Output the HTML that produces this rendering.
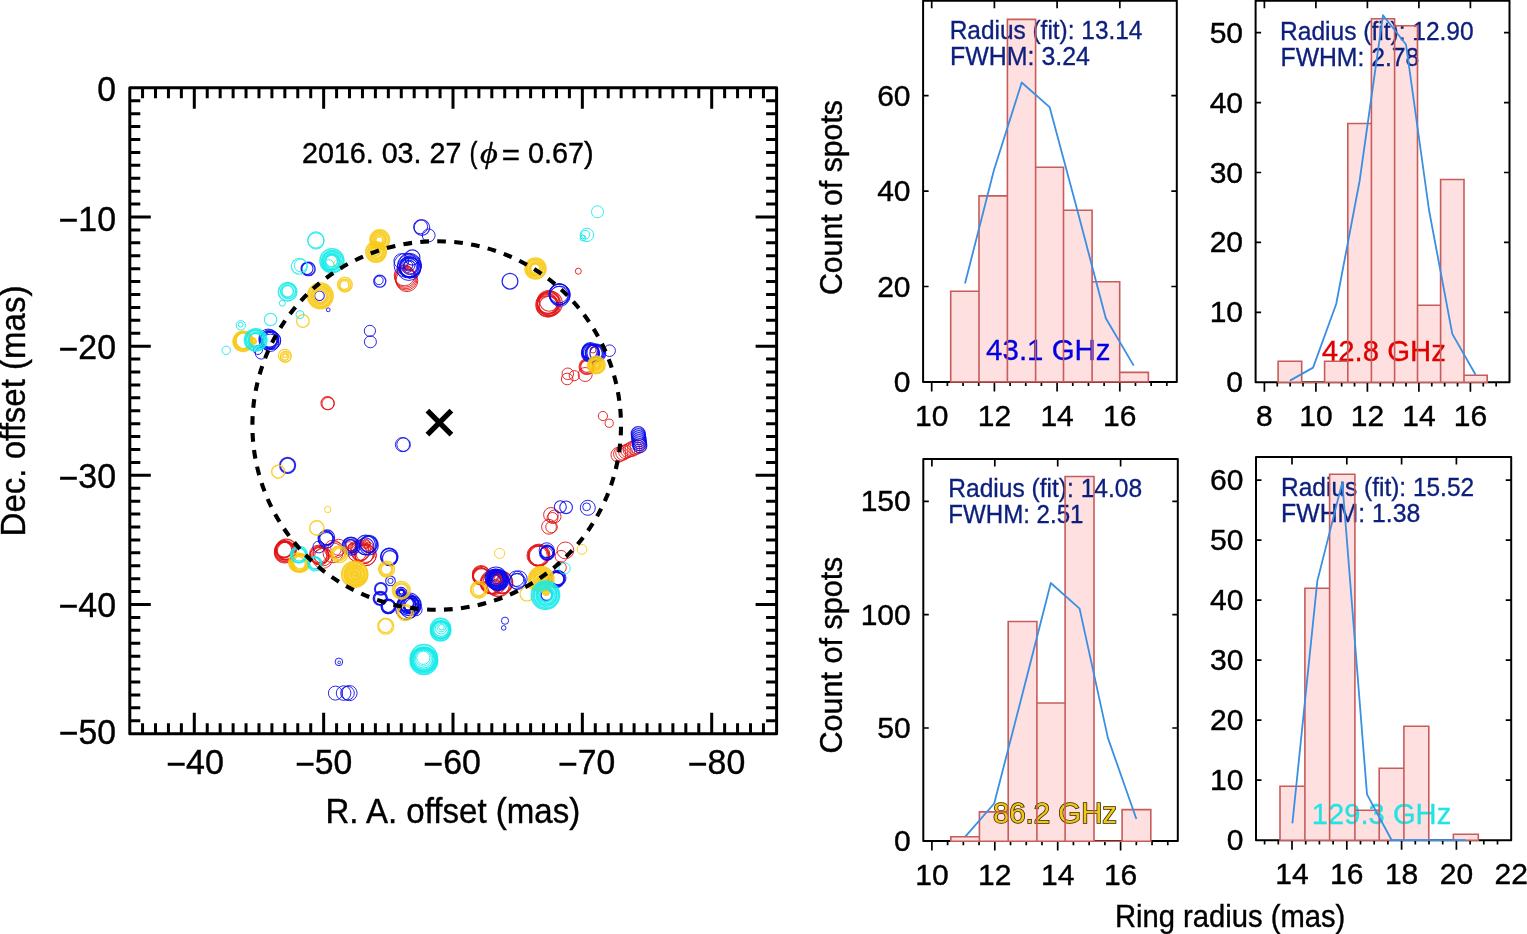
<!DOCTYPE html><html><head><meta charset="utf-8"><title>Ring radius figure</title><style>html,body{margin:0;padding:0;background:#fff;overflow:hidden}svg{display:block}</style></head><body>
<svg width="1527" height="934" viewBox="0 0 1527 934" font-family="'Liberation Sans', Arial, Helvetica, sans-serif">
<rect x="0" y="0" width="1527" height="934" fill="#fff"/>
<g fill="none" stroke-opacity="0.88">
<circle cx="404.5" cy="275.5" r="10.3" stroke="#e21212" stroke-width="1"/>
<circle cx="405.1" cy="276.8" r="10.45" stroke="#e21212" stroke-width="1"/>
<circle cx="405.7" cy="278.1" r="10.6" stroke="#e21212" stroke-width="1"/>
<circle cx="406.3" cy="279.4" r="10.75" stroke="#e21212" stroke-width="1"/>
<circle cx="406.9" cy="280.7" r="10.9" stroke="#e21212" stroke-width="1"/>
<circle cx="408" cy="269.5" r="3.2" stroke="#e21212" stroke-width="1"/>
<circle cx="406" cy="267" r="2.2" stroke="#e21212" stroke-width="1"/>
<circle cx="548.62" cy="301.91" r="11.45" stroke="#e21212" stroke-width="1.1"/>
<circle cx="547.36" cy="304.22" r="10.6" stroke="#e21212" stroke-width="1.1"/>
<circle cx="547.29" cy="304.04" r="9.61" stroke="#e21212" stroke-width="1.1"/>
<circle cx="549.17" cy="301.42" r="9.77" stroke="#e21212" stroke-width="1.1"/>
<circle cx="549.12" cy="305.96" r="9.87" stroke="#e21212" stroke-width="1.1"/>
<circle cx="548.12" cy="304.76" r="12.34" stroke="#e21212" stroke-width="1.1"/>
<circle cx="549.89" cy="303.38" r="12.43" stroke="#e21212" stroke-width="1.1"/>
<circle cx="547.23" cy="306.15" r="10.37" stroke="#e21212" stroke-width="1.1"/>
<circle cx="578.3" cy="271.2" r="3" stroke="#e21212" stroke-width="1"/>
<circle cx="586.82" cy="366.39" r="6" stroke="#e21212" stroke-width="1.1"/>
<circle cx="586.95" cy="366.95" r="6.9" stroke="#e21212" stroke-width="1.1"/>
<circle cx="586.84" cy="366.77" r="7.8" stroke="#e21212" stroke-width="1.1"/>
<circle cx="585.2" cy="374.5" r="7" stroke="#e21212" stroke-width="1"/>
<circle cx="567.8" cy="373.8" r="5.8" stroke="#e21212" stroke-width="1"/>
<circle cx="567.2" cy="379" r="5.8" stroke="#e21212" stroke-width="1"/>
<circle cx="574.3" cy="375.7" r="5.1" stroke="#e21212" stroke-width="1"/>
<circle cx="593" cy="350" r="3" stroke="#e21212" stroke-width="1"/>
<circle cx="602.9" cy="416" r="4.6" stroke="#e21212" stroke-width="1"/>
<circle cx="609.2" cy="423.2" r="4.1" stroke="#e21212" stroke-width="1"/>
<circle cx="618.4" cy="454.8" r="7.44" stroke="#e21212" stroke-width="1"/>
<circle cx="620.74" cy="453.8" r="7.17" stroke="#e21212" stroke-width="1"/>
<circle cx="623.08" cy="452.8" r="7.35" stroke="#e21212" stroke-width="1"/>
<circle cx="625.41" cy="451.8" r="6.86" stroke="#e21212" stroke-width="1"/>
<circle cx="627.75" cy="450.8" r="6.86" stroke="#e21212" stroke-width="1"/>
<circle cx="630.09" cy="449.8" r="7.01" stroke="#e21212" stroke-width="1"/>
<circle cx="632.42" cy="448.8" r="7.48" stroke="#e21212" stroke-width="1"/>
<circle cx="634.76" cy="447.8" r="7.23" stroke="#e21212" stroke-width="1"/>
<circle cx="637.1" cy="446.8" r="7.11" stroke="#e21212" stroke-width="1"/>
<circle cx="327.6" cy="403.2" r="6.6" stroke="#e21212" stroke-width="1.1"/>
<circle cx="328.1" cy="403.6" r="6.1" stroke="#e21212" stroke-width="1"/>
<circle cx="550.9" cy="514.8" r="7.3" stroke="#e21212" stroke-width="1"/>
<circle cx="554.5" cy="516.5" r="6.5" stroke="#e21212" stroke-width="1"/>
<circle cx="552.5" cy="518" r="5.5" stroke="#e21212" stroke-width="1"/>
<circle cx="549" cy="526.8" r="7.4" stroke="#e21212" stroke-width="1"/>
<circle cx="551.5" cy="527" r="5.8" stroke="#e21212" stroke-width="1"/>
<circle cx="538.71" cy="555.49" r="9.95" stroke="#e21212" stroke-width="1"/>
<circle cx="539.21" cy="556.08" r="9.87" stroke="#e21212" stroke-width="1"/>
<circle cx="538.68" cy="555.66" r="10.81" stroke="#e21212" stroke-width="1"/>
<circle cx="539.05" cy="555.09" r="10.97" stroke="#e21212" stroke-width="1"/>
<circle cx="537.58" cy="555.4" r="10.64" stroke="#e21212" stroke-width="1"/>
<circle cx="537.66" cy="555.57" r="9.56" stroke="#e21212" stroke-width="1"/>
<circle cx="565.4" cy="550.4" r="8.4" stroke="#e21212" stroke-width="1"/>
<circle cx="561.1" cy="556.4" r="6" stroke="#e21212" stroke-width="1"/>
<circle cx="560.3" cy="567.6" r="6" stroke="#e21212" stroke-width="1"/>
<circle cx="481" cy="576.29" r="8.36" stroke="#e21212" stroke-width="1.2"/>
<circle cx="481.63" cy="574.94" r="8.54" stroke="#e21212" stroke-width="1.2"/>
<circle cx="480.78" cy="575.74" r="8.18" stroke="#e21212" stroke-width="1.2"/>
<circle cx="481.52" cy="576.83" r="8.21" stroke="#e21212" stroke-width="1.2"/>
<circle cx="480.99" cy="574.18" r="8.55" stroke="#e21212" stroke-width="1.2"/>
<circle cx="498.91" cy="584.98" r="11.64" stroke="#e21212" stroke-width="1.1"/>
<circle cx="494.2" cy="583.16" r="11.34" stroke="#e21212" stroke-width="1.1"/>
<circle cx="490.79" cy="583.39" r="10.34" stroke="#e21212" stroke-width="1.1"/>
<circle cx="492.02" cy="582.18" r="11.54" stroke="#e21212" stroke-width="1.1"/>
<circle cx="492.18" cy="582.74" r="10.78" stroke="#e21212" stroke-width="1.1"/>
<circle cx="501.83" cy="582.24" r="10.9" stroke="#e21212" stroke-width="1.1"/>
<circle cx="497.64" cy="584.65" r="11.64" stroke="#e21212" stroke-width="1.1"/>
<circle cx="501.73" cy="582.84" r="10.83" stroke="#e21212" stroke-width="1.1"/>
<circle cx="284.88" cy="552.54" r="10.35" stroke="#e21212" stroke-width="1.3"/>
<circle cx="283.96" cy="549.7" r="7.81" stroke="#e21212" stroke-width="1.3"/>
<circle cx="284.33" cy="550.94" r="9.06" stroke="#e21212" stroke-width="1.3"/>
<circle cx="284.46" cy="549.02" r="8.47" stroke="#e21212" stroke-width="1.3"/>
<circle cx="284.92" cy="551.27" r="10.34" stroke="#e21212" stroke-width="1.3"/>
<circle cx="286.34" cy="551.06" r="9.16" stroke="#e21212" stroke-width="1.3"/>
<circle cx="286.28" cy="549.22" r="10.15" stroke="#e21212" stroke-width="1.3"/>
<circle cx="322.68" cy="558.37" r="10.1" stroke="#e21212" stroke-width="1"/>
<circle cx="320.35" cy="555.99" r="8.71" stroke="#e21212" stroke-width="1"/>
<circle cx="321.81" cy="554.31" r="8.63" stroke="#e21212" stroke-width="1"/>
<circle cx="319.25" cy="554.81" r="9.18" stroke="#e21212" stroke-width="1"/>
<circle cx="318.32" cy="554" r="8.8" stroke="#e21212" stroke-width="1"/>
<circle cx="318.61" cy="555.82" r="8.55" stroke="#e21212" stroke-width="1"/>
<circle cx="323.25" cy="557.07" r="8.8" stroke="#e21212" stroke-width="1"/>
<circle cx="319.51" cy="555.74" r="9.23" stroke="#e21212" stroke-width="1"/>
<circle cx="332.98" cy="552.79" r="9.99" stroke="#e21212" stroke-width="1"/>
<circle cx="335.73" cy="549.87" r="8.17" stroke="#e21212" stroke-width="1"/>
<circle cx="332.82" cy="548.74" r="8.53" stroke="#e21212" stroke-width="1"/>
<circle cx="338.63" cy="547.29" r="8.05" stroke="#e21212" stroke-width="1"/>
<circle cx="365.41" cy="553.17" r="9.29" stroke="#e21212" stroke-width="1"/>
<circle cx="360.52" cy="550.16" r="10.06" stroke="#e21212" stroke-width="1"/>
<circle cx="365.74" cy="555.18" r="10.39" stroke="#e21212" stroke-width="1"/>
<circle cx="357.13" cy="552.2" r="9.33" stroke="#e21212" stroke-width="1"/>
<circle cx="363.26" cy="553.2" r="10.56" stroke="#e21212" stroke-width="1"/>
<circle cx="357.96" cy="551.34" r="10.62" stroke="#e21212" stroke-width="1"/>
<circle cx="365.82" cy="555.12" r="10.61" stroke="#e21212" stroke-width="1"/>
<circle cx="363.82" cy="554.44" r="9.45" stroke="#e21212" stroke-width="1"/>
<circle cx="360.21" cy="552.13" r="9.06" stroke="#e21212" stroke-width="1"/>
<circle cx="349.11" cy="545.12" r="3.52" stroke="#e21212" stroke-width="1"/>
<circle cx="351.77" cy="547.83" r="3.89" stroke="#e21212" stroke-width="1"/>
<circle cx="352.75" cy="547.95" r="4.91" stroke="#e21212" stroke-width="1"/>
<circle cx="366.46" cy="543.88" r="3.57" stroke="#e21212" stroke-width="1"/>
<circle cx="365.79" cy="543.82" r="4.56" stroke="#e21212" stroke-width="1"/>
<circle cx="368.6" cy="546.36" r="4.2" stroke="#e21212" stroke-width="1"/>
<circle cx="412.3" cy="257.5" r="7.6" stroke="#0a0aec" stroke-width="1.2"/>
<circle cx="401.3" cy="261.1" r="7.4" stroke="#0a0aec" stroke-width="1"/>
<circle cx="408.76" cy="268.18" r="9.75" stroke="#0a0aec" stroke-width="1"/>
<circle cx="408.8" cy="268.68" r="11.77" stroke="#0a0aec" stroke-width="1"/>
<circle cx="409.25" cy="266.7" r="10.02" stroke="#0a0aec" stroke-width="1"/>
<circle cx="409.45" cy="266.03" r="11.82" stroke="#0a0aec" stroke-width="1"/>
<circle cx="410.36" cy="266.32" r="10.66" stroke="#0a0aec" stroke-width="1"/>
<circle cx="410.23" cy="267.83" r="9.99" stroke="#0a0aec" stroke-width="1"/>
<circle cx="406.14" cy="265.2" r="12.12" stroke="#0a0aec" stroke-width="1"/>
<circle cx="409.53" cy="265.17" r="11.9" stroke="#0a0aec" stroke-width="1"/>
<circle cx="410.4" cy="267.52" r="10.52" stroke="#0a0aec" stroke-width="1"/>
<circle cx="408.19" cy="265.32" r="4.56" stroke="#0a0aec" stroke-width="1"/>
<circle cx="409.88" cy="267.4" r="6.61" stroke="#0a0aec" stroke-width="1"/>
<circle cx="409.73" cy="266.54" r="7.99" stroke="#0a0aec" stroke-width="1"/>
<circle cx="409.3" cy="265.64" r="5.51" stroke="#0a0aec" stroke-width="1"/>
<circle cx="421.9" cy="227.6" r="7.8" stroke="#0a0aec" stroke-width="1.1"/>
<circle cx="420.6" cy="226.8" r="7" stroke="#0a0aec" stroke-width="1"/>
<circle cx="428.7" cy="235.4" r="6.4" stroke="#0a0aec" stroke-width="1"/>
<circle cx="379.8" cy="281.2" r="6" stroke="#0a0aec" stroke-width="1.3"/>
<circle cx="378.9" cy="280.4" r="4.3" stroke="#0a0aec" stroke-width="1"/>
<circle cx="369.9" cy="330.9" r="5.6" stroke="#0a0aec" stroke-width="1"/>
<circle cx="370.4" cy="341.8" r="6" stroke="#0a0aec" stroke-width="1"/>
<circle cx="308.4" cy="268.9" r="6.7" stroke="#0a0aec" stroke-width="1.5"/>
<circle cx="307" cy="268.5" r="6" stroke="#0a0aec" stroke-width="1.1"/>
<circle cx="319.5" cy="295.8" r="4.8" stroke="#0a0aec" stroke-width="1.1"/>
<circle cx="328.2" cy="309.8" r="1.9" stroke="#0a0aec" stroke-width="1"/>
<circle cx="268.76" cy="339.5" r="8.94" stroke="#0a0aec" stroke-width="1"/>
<circle cx="268.6" cy="340.4" r="8.21" stroke="#0a0aec" stroke-width="1"/>
<circle cx="271.85" cy="340.07" r="8.73" stroke="#0a0aec" stroke-width="1"/>
<circle cx="270.22" cy="342.82" r="8.67" stroke="#0a0aec" stroke-width="1"/>
<circle cx="271.89" cy="340.81" r="8.85" stroke="#0a0aec" stroke-width="1"/>
<circle cx="269.92" cy="338.39" r="8.7" stroke="#0a0aec" stroke-width="1"/>
<circle cx="268.22" cy="338.32" r="9.28" stroke="#0a0aec" stroke-width="1"/>
<circle cx="268.16" cy="340.67" r="9.16" stroke="#0a0aec" stroke-width="1"/>
<circle cx="270.08" cy="339.93" r="8.83" stroke="#0a0aec" stroke-width="1"/>
<circle cx="261.2" cy="353.2" r="5.9" stroke="#0a0aec" stroke-width="1"/>
<circle cx="258" cy="350" r="4.5" stroke="#0a0aec" stroke-width="1"/>
<circle cx="510" cy="281.2" r="7.9" stroke="#0a0aec" stroke-width="1.3"/>
<circle cx="558.94" cy="295.65" r="9.27" stroke="#0a0aec" stroke-width="1"/>
<circle cx="558.97" cy="293.29" r="9.69" stroke="#0a0aec" stroke-width="1"/>
<circle cx="559.9" cy="294.43" r="10.4" stroke="#0a0aec" stroke-width="1"/>
<circle cx="559.84" cy="296.21" r="10.11" stroke="#0a0aec" stroke-width="1"/>
<circle cx="559.2" cy="294.42" r="10.28" stroke="#0a0aec" stroke-width="1"/>
<circle cx="559.55" cy="294.19" r="10.33" stroke="#0a0aec" stroke-width="1"/>
<circle cx="593.78" cy="353.32" r="8.55" stroke="#0a0aec" stroke-width="1.3"/>
<circle cx="597.77" cy="353.33" r="7.89" stroke="#0a0aec" stroke-width="1.3"/>
<circle cx="594.6" cy="353.33" r="8.76" stroke="#0a0aec" stroke-width="1.3"/>
<circle cx="590.37" cy="350.86" r="8.16" stroke="#0a0aec" stroke-width="1.3"/>
<circle cx="589.73" cy="351.22" r="7.61" stroke="#0a0aec" stroke-width="1.3"/>
<circle cx="595.69" cy="352.85" r="8.85" stroke="#0a0aec" stroke-width="1.3"/>
<circle cx="590.54" cy="352.65" r="8.49" stroke="#0a0aec" stroke-width="1.3"/>
<circle cx="590.43" cy="353.15" r="8.95" stroke="#0a0aec" stroke-width="1.3"/>
<circle cx="591.2" cy="353.36" r="8.1" stroke="#0a0aec" stroke-width="1.3"/>
<circle cx="609.6" cy="350.7" r="5.8" stroke="#0a0aec" stroke-width="1"/>
<circle cx="638.2" cy="433.7" r="7" stroke="#0a0aec" stroke-width="1.2"/>
<circle cx="638.47" cy="435.7" r="7" stroke="#0a0aec" stroke-width="1.2"/>
<circle cx="638.73" cy="437.7" r="7" stroke="#0a0aec" stroke-width="1.2"/>
<circle cx="639" cy="439.7" r="7" stroke="#0a0aec" stroke-width="1.2"/>
<circle cx="639.27" cy="441.7" r="7" stroke="#0a0aec" stroke-width="1.2"/>
<circle cx="639.53" cy="443.7" r="7" stroke="#0a0aec" stroke-width="1.2"/>
<circle cx="639.8" cy="445.7" r="7" stroke="#0a0aec" stroke-width="1.2"/>
<circle cx="402.5" cy="444.6" r="7.1" stroke="#0a0aec" stroke-width="1"/>
<circle cx="403.6" cy="444.6" r="6.8" stroke="#0a0aec" stroke-width="1"/>
<circle cx="287.6" cy="465.3" r="7.6" stroke="#0a0aec" stroke-width="2"/>
<circle cx="326.46" cy="540.27" r="7.8" stroke="#0a0aec" stroke-width="1.1"/>
<circle cx="325.48" cy="538.59" r="7.42" stroke="#0a0aec" stroke-width="1.1"/>
<circle cx="326.02" cy="537.89" r="7.18" stroke="#0a0aec" stroke-width="1.1"/>
<circle cx="327.17" cy="537.36" r="7.46" stroke="#0a0aec" stroke-width="1.1"/>
<circle cx="318.8" cy="547" r="5.9" stroke="#0a0aec" stroke-width="1"/>
<circle cx="350.55" cy="545.51" r="5.6" stroke="#0a0aec" stroke-width="1.2"/>
<circle cx="350.47" cy="546" r="6.73" stroke="#0a0aec" stroke-width="1.2"/>
<circle cx="350.61" cy="545.55" r="7.87" stroke="#0a0aec" stroke-width="1.2"/>
<circle cx="350.99" cy="546.13" r="9" stroke="#0a0aec" stroke-width="1.2"/>
<circle cx="369.09" cy="543.72" r="8.53" stroke="#0a0aec" stroke-width="1.1"/>
<circle cx="365.36" cy="546.42" r="8.54" stroke="#0a0aec" stroke-width="1.1"/>
<circle cx="365.72" cy="544.99" r="9.82" stroke="#0a0aec" stroke-width="1.1"/>
<circle cx="368.48" cy="544.33" r="8.3" stroke="#0a0aec" stroke-width="1.1"/>
<circle cx="368.88" cy="545.58" r="9.4" stroke="#0a0aec" stroke-width="1.1"/>
<circle cx="388.78" cy="556.72" r="8.23" stroke="#0a0aec" stroke-width="1.3"/>
<circle cx="389.45" cy="556.74" r="8.53" stroke="#0a0aec" stroke-width="1.3"/>
<circle cx="389.87" cy="558.2" r="7.5" stroke="#0a0aec" stroke-width="1.3"/>
<circle cx="390.5" cy="580.9" r="4.8" stroke="#0a0aec" stroke-width="1.1"/>
<circle cx="390.5" cy="580.9" r="2.6" stroke="#0a0aec" stroke-width="1"/>
<circle cx="380.8" cy="588.9" r="5.9" stroke="#0a0aec" stroke-width="2"/>
<circle cx="380.51" cy="598.06" r="6.86" stroke="#0a0aec" stroke-width="1.1"/>
<circle cx="379.71" cy="598.71" r="6.55" stroke="#0a0aec" stroke-width="1.1"/>
<circle cx="380.65" cy="598.54" r="6.13" stroke="#0a0aec" stroke-width="1.1"/>
<circle cx="388.98" cy="606.32" r="6.61" stroke="#0a0aec" stroke-width="1.1"/>
<circle cx="387.88" cy="605.75" r="6.7" stroke="#0a0aec" stroke-width="1.1"/>
<circle cx="388.34" cy="606.52" r="7.26" stroke="#0a0aec" stroke-width="1.1"/>
<circle cx="388.27" cy="607.1" r="6.68" stroke="#0a0aec" stroke-width="1.1"/>
<circle cx="401.33" cy="591.34" r="2.5" stroke="#0a0aec" stroke-width="1"/>
<circle cx="400.54" cy="593.06" r="3.7" stroke="#0a0aec" stroke-width="1"/>
<circle cx="400.95" cy="592.44" r="5.24" stroke="#0a0aec" stroke-width="1"/>
<circle cx="400.76" cy="593.27" r="3.23" stroke="#0a0aec" stroke-width="1"/>
<circle cx="401.69" cy="593.3" r="3.07" stroke="#0a0aec" stroke-width="1"/>
<circle cx="401.72" cy="592.95" r="5.43" stroke="#0a0aec" stroke-width="1"/>
<circle cx="401.32" cy="593.3" r="4.33" stroke="#0a0aec" stroke-width="1"/>
<circle cx="402.03" cy="592.27" r="2.89" stroke="#0a0aec" stroke-width="1"/>
<circle cx="406.38" cy="603.41" r="7.32" stroke="#0a0aec" stroke-width="1.1"/>
<circle cx="411.19" cy="604.29" r="7.73" stroke="#0a0aec" stroke-width="1.1"/>
<circle cx="406.59" cy="608.39" r="10.92" stroke="#0a0aec" stroke-width="1.1"/>
<circle cx="410.69" cy="604.47" r="8.09" stroke="#0a0aec" stroke-width="1.1"/>
<circle cx="408.05" cy="605.72" r="7.71" stroke="#0a0aec" stroke-width="1.1"/>
<circle cx="409.12" cy="604.34" r="11.33" stroke="#0a0aec" stroke-width="1.1"/>
<circle cx="412.81" cy="606.33" r="8.1" stroke="#0a0aec" stroke-width="1.1"/>
<circle cx="412.76" cy="604.67" r="8.6" stroke="#0a0aec" stroke-width="1.1"/>
<circle cx="406.01" cy="605.17" r="9.14" stroke="#0a0aec" stroke-width="1.1"/>
<circle cx="409.52" cy="603.91" r="9.27" stroke="#0a0aec" stroke-width="1.1"/>
<circle cx="406.03" cy="604.35" r="7.4" stroke="#0a0aec" stroke-width="1.1"/>
<circle cx="408.8" cy="602.79" r="7.1" stroke="#0a0aec" stroke-width="1.1"/>
<circle cx="408.13" cy="604.13" r="9.64" stroke="#0a0aec" stroke-width="1.1"/>
<circle cx="409.7" cy="607.75" r="9.96" stroke="#0a0aec" stroke-width="1.1"/>
<circle cx="416.2" cy="609.8" r="5.9" stroke="#0a0aec" stroke-width="1"/>
<circle cx="338.9" cy="661.9" r="3.8" stroke="#0a0aec" stroke-width="1"/>
<circle cx="339.2" cy="662.4" r="1.4" stroke="#0a0aec" stroke-width="0.9"/>
<circle cx="335.4" cy="693.1" r="7" stroke="#0a0aec" stroke-width="1"/>
<circle cx="343.6" cy="693.1" r="7.3" stroke="#0a0aec" stroke-width="1"/>
<circle cx="349.5" cy="693.1" r="7.6" stroke="#0a0aec" stroke-width="1"/>
<circle cx="347.5" cy="693.1" r="6.8" stroke="#0a0aec" stroke-width="1"/>
<circle cx="560.3" cy="506.8" r="6" stroke="#0a0aec" stroke-width="1.1"/>
<circle cx="566.1" cy="507.3" r="6.3" stroke="#0a0aec" stroke-width="1.1"/>
<circle cx="587.8" cy="507.8" r="7.5" stroke="#0a0aec" stroke-width="1"/>
<circle cx="586.6" cy="506.8" r="3.9" stroke="#0a0aec" stroke-width="1"/>
<circle cx="547.12" cy="552.95" r="6.88" stroke="#0a0aec" stroke-width="1"/>
<circle cx="546.18" cy="553.69" r="6.52" stroke="#0a0aec" stroke-width="1"/>
<circle cx="547.14" cy="551.3" r="6.37" stroke="#0a0aec" stroke-width="1"/>
<circle cx="547.4" cy="553.04" r="7.24" stroke="#0a0aec" stroke-width="1"/>
<circle cx="547.16" cy="552.49" r="6.51" stroke="#0a0aec" stroke-width="1"/>
<circle cx="546.66" cy="550.33" r="7.55" stroke="#0a0aec" stroke-width="1"/>
<circle cx="547.33" cy="552.58" r="7.18" stroke="#0a0aec" stroke-width="1"/>
<circle cx="498.56" cy="580.03" r="10.2" stroke="#0a0aec" stroke-width="1.1"/>
<circle cx="495.25" cy="577.42" r="8.02" stroke="#0a0aec" stroke-width="1.1"/>
<circle cx="495.9" cy="577.72" r="10.76" stroke="#0a0aec" stroke-width="1.1"/>
<circle cx="496.89" cy="579.81" r="9.94" stroke="#0a0aec" stroke-width="1.1"/>
<circle cx="497.5" cy="579.26" r="7.51" stroke="#0a0aec" stroke-width="1.1"/>
<circle cx="498.09" cy="580.29" r="9.46" stroke="#0a0aec" stroke-width="1.1"/>
<circle cx="496.78" cy="579.94" r="7.76" stroke="#0a0aec" stroke-width="1.1"/>
<circle cx="497.78" cy="578.31" r="7.79" stroke="#0a0aec" stroke-width="1.1"/>
<circle cx="495.43" cy="580.22" r="8.3" stroke="#0a0aec" stroke-width="1.1"/>
<circle cx="497.8" cy="581.2" r="9.43" stroke="#0a0aec" stroke-width="1.1"/>
<circle cx="496.01" cy="579.22" r="10.17" stroke="#0a0aec" stroke-width="1.1"/>
<circle cx="497.93" cy="579.77" r="10.01" stroke="#0a0aec" stroke-width="1.1"/>
<circle cx="494.49" cy="577.89" r="8.49" stroke="#0a0aec" stroke-width="1.1"/>
<circle cx="497.77" cy="578.52" r="4.77" stroke="#0a0aec" stroke-width="1"/>
<circle cx="494.85" cy="577.54" r="3.58" stroke="#0a0aec" stroke-width="1"/>
<circle cx="497.49" cy="580.07" r="5.2" stroke="#0a0aec" stroke-width="1"/>
<circle cx="495.96" cy="579.37" r="4.36" stroke="#0a0aec" stroke-width="1"/>
<circle cx="496.67" cy="577.77" r="6.07" stroke="#0a0aec" stroke-width="1"/>
<circle cx="495.6" cy="581.21" r="6.25" stroke="#0a0aec" stroke-width="1"/>
<circle cx="494.87" cy="579.14" r="5.78" stroke="#0a0aec" stroke-width="1"/>
<circle cx="499.37" cy="579.8" r="2.81" stroke="#e21212" stroke-width="1"/>
<circle cx="496.34" cy="581.78" r="2.63" stroke="#e21212" stroke-width="1"/>
<circle cx="497.83" cy="578.57" r="3.57" stroke="#e21212" stroke-width="1"/>
<circle cx="518.96" cy="579.1" r="8.23" stroke="#0a0aec" stroke-width="1"/>
<circle cx="517.63" cy="581.36" r="8.06" stroke="#0a0aec" stroke-width="1"/>
<circle cx="516.79" cy="581.39" r="7.73" stroke="#0a0aec" stroke-width="1"/>
<circle cx="516.17" cy="578.71" r="7.74" stroke="#0a0aec" stroke-width="1"/>
<circle cx="557.55" cy="578.11" r="6.71" stroke="#0a0aec" stroke-width="1.1"/>
<circle cx="557.23" cy="578.15" r="7.76" stroke="#0a0aec" stroke-width="1.1"/>
<circle cx="556.21" cy="579.45" r="7.76" stroke="#0a0aec" stroke-width="1.1"/>
<circle cx="556.56" cy="579.98" r="7.57" stroke="#0a0aec" stroke-width="1.1"/>
<circle cx="558.9" cy="578.07" r="7.06" stroke="#0a0aec" stroke-width="1.1"/>
<circle cx="546.6" cy="595" r="5.6" stroke="#0a0aec" stroke-width="1.5"/>
<circle cx="505" cy="620.7" r="3.6" stroke="#0a0aec" stroke-width="1"/>
<circle cx="503.7" cy="627.9" r="2.3" stroke="#0a0aec" stroke-width="1"/>
<circle cx="379.31" cy="240.3" r="3.5" stroke="#f8ca16" stroke-width="1.6"/>
<circle cx="379.47" cy="239.79" r="4.76" stroke="#f8ca16" stroke-width="1.6"/>
<circle cx="379.34" cy="239.72" r="6.02" stroke="#f8ca16" stroke-width="1.6"/>
<circle cx="379.04" cy="239.58" r="7.28" stroke="#f8ca16" stroke-width="1.6"/>
<circle cx="379.67" cy="239.73" r="8.54" stroke="#f8ca16" stroke-width="1.6"/>
<circle cx="379.75" cy="239.7" r="9.8" stroke="#f8ca16" stroke-width="1.6"/>
<circle cx="375.81" cy="251.71" r="3.5" stroke="#f8ca16" stroke-width="1.6"/>
<circle cx="375.75" cy="251.6" r="4.84" stroke="#f8ca16" stroke-width="1.6"/>
<circle cx="376.36" cy="252.01" r="6.18" stroke="#f8ca16" stroke-width="1.6"/>
<circle cx="376.25" cy="251.8" r="7.52" stroke="#f8ca16" stroke-width="1.6"/>
<circle cx="376.33" cy="252.05" r="8.86" stroke="#f8ca16" stroke-width="1.6"/>
<circle cx="376.04" cy="251.88" r="10.2" stroke="#f8ca16" stroke-width="1.6"/>
<circle cx="344.44" cy="284.99" r="4.5" stroke="#f8ca16" stroke-width="1.4"/>
<circle cx="344.76" cy="285" r="5.9" stroke="#f8ca16" stroke-width="1.4"/>
<circle cx="344.92" cy="284.63" r="7.3" stroke="#f8ca16" stroke-width="1.4"/>
<circle cx="320.14" cy="296.14" r="6.3" stroke="#f8ca16" stroke-width="1.6"/>
<circle cx="320.2" cy="295.78" r="7.6" stroke="#f8ca16" stroke-width="1.6"/>
<circle cx="320.37" cy="295.64" r="8.9" stroke="#f8ca16" stroke-width="1.6"/>
<circle cx="320.69" cy="296.18" r="10.2" stroke="#f8ca16" stroke-width="1.6"/>
<circle cx="320.31" cy="295.92" r="11.5" stroke="#f8ca16" stroke-width="1.6"/>
<circle cx="320.34" cy="295.85" r="12.8" stroke="#f8ca16" stroke-width="1.6"/>
<circle cx="337.8" cy="263.6" r="3.9" stroke="#f8ca16" stroke-width="0.8"/>
<circle cx="302.9" cy="321" r="6.3" stroke="#f8ca16" stroke-width="1.3"/>
<circle cx="243.97" cy="340.67" r="8.32" stroke="#f8ca16" stroke-width="1.6"/>
<circle cx="243.04" cy="341.41" r="8.99" stroke="#f8ca16" stroke-width="1.6"/>
<circle cx="243.1" cy="341.41" r="9.99" stroke="#f8ca16" stroke-width="1.6"/>
<circle cx="244.25" cy="340.64" r="8.38" stroke="#f8ca16" stroke-width="1.6"/>
<circle cx="242.45" cy="340.84" r="8.18" stroke="#f8ca16" stroke-width="1.6"/>
<circle cx="252.48" cy="340.52" r="2.85" stroke="#f8ca16" stroke-width="1.2"/>
<circle cx="253.77" cy="341.5" r="2.62" stroke="#f8ca16" stroke-width="1.2"/>
<circle cx="252.83" cy="341.05" r="2.57" stroke="#f8ca16" stroke-width="1.2"/>
<circle cx="285.04" cy="355.5" r="2" stroke="#f8ca16" stroke-width="1.1"/>
<circle cx="284.94" cy="356.95" r="3.12" stroke="#f8ca16" stroke-width="1.1"/>
<circle cx="284.7" cy="356.21" r="4.25" stroke="#f8ca16" stroke-width="1.1"/>
<circle cx="285.51" cy="356.78" r="5.38" stroke="#f8ca16" stroke-width="1.1"/>
<circle cx="284.85" cy="355.83" r="6.5" stroke="#f8ca16" stroke-width="1.1"/>
<circle cx="535.3" cy="268.42" r="4.5" stroke="#f8ca16" stroke-width="1.6"/>
<circle cx="535.46" cy="268.86" r="5.7" stroke="#f8ca16" stroke-width="1.6"/>
<circle cx="535.78" cy="268.8" r="6.9" stroke="#f8ca16" stroke-width="1.6"/>
<circle cx="535.12" cy="268.13" r="8.1" stroke="#f8ca16" stroke-width="1.6"/>
<circle cx="535.67" cy="268.82" r="9.3" stroke="#f8ca16" stroke-width="1.6"/>
<circle cx="535.48" cy="268.57" r="10.5" stroke="#f8ca16" stroke-width="1.6"/>
<circle cx="595.6" cy="364.69" r="0.8" stroke="#f8ca16" stroke-width="2"/>
<circle cx="596.53" cy="365.13" r="2.1" stroke="#f8ca16" stroke-width="2"/>
<circle cx="596.46" cy="365.27" r="3.4" stroke="#f8ca16" stroke-width="2"/>
<circle cx="595.85" cy="364.41" r="4.7" stroke="#f8ca16" stroke-width="2"/>
<circle cx="595.75" cy="364.82" r="6" stroke="#f8ca16" stroke-width="2"/>
<circle cx="596.28" cy="365.24" r="7.3" stroke="#f8ca16" stroke-width="2"/>
<circle cx="596.32" cy="364.95" r="8.6" stroke="#f8ca16" stroke-width="2"/>
<circle cx="278.2" cy="471.7" r="6.5" stroke="#f8ca16" stroke-width="1.4"/>
<circle cx="327.7" cy="509.5" r="3.2" stroke="#f8ca16" stroke-width="1"/>
<circle cx="316.8" cy="528" r="7.2" stroke="#f8ca16" stroke-width="1.4"/>
<circle cx="300.56" cy="562.87" r="8.93" stroke="#f8ca16" stroke-width="1.8"/>
<circle cx="297.66" cy="563.85" r="7.81" stroke="#f8ca16" stroke-width="1.8"/>
<circle cx="301.18" cy="563.44" r="8.06" stroke="#f8ca16" stroke-width="1.8"/>
<circle cx="298.01" cy="562.26" r="9.23" stroke="#f8ca16" stroke-width="1.8"/>
<circle cx="300.29" cy="561.84" r="7.25" stroke="#f8ca16" stroke-width="1.8"/>
<circle cx="299.6" cy="563.25" r="8.36" stroke="#f8ca16" stroke-width="1.8"/>
<circle cx="339.08" cy="553.98" r="5.7" stroke="#f8ca16" stroke-width="1.4"/>
<circle cx="338.91" cy="553.74" r="7.05" stroke="#f8ca16" stroke-width="1.4"/>
<circle cx="339.27" cy="554.27" r="8.4" stroke="#f8ca16" stroke-width="1.4"/>
<circle cx="355.34" cy="574.78" r="1" stroke="#f8ca16" stroke-width="2.1"/>
<circle cx="355.18" cy="574.13" r="2.48" stroke="#f8ca16" stroke-width="2.1"/>
<circle cx="354.95" cy="574.86" r="3.95" stroke="#f8ca16" stroke-width="2.1"/>
<circle cx="355.4" cy="574.21" r="5.43" stroke="#f8ca16" stroke-width="2.1"/>
<circle cx="354.72" cy="574.4" r="6.9" stroke="#f8ca16" stroke-width="2.1"/>
<circle cx="355.37" cy="574.32" r="8.38" stroke="#f8ca16" stroke-width="2.1"/>
<circle cx="354.96" cy="574.57" r="9.85" stroke="#f8ca16" stroke-width="2.1"/>
<circle cx="355.63" cy="574.13" r="11.33" stroke="#f8ca16" stroke-width="2.1"/>
<circle cx="354.73" cy="574.24" r="12.8" stroke="#f8ca16" stroke-width="2.1"/>
<circle cx="386.34" cy="569.25" r="5.3" stroke="#f8ca16" stroke-width="1.4"/>
<circle cx="386.16" cy="569.34" r="6.6" stroke="#f8ca16" stroke-width="1.4"/>
<circle cx="386.59" cy="569.1" r="7.9" stroke="#f8ca16" stroke-width="1.4"/>
<circle cx="401.26" cy="590.88" r="6.7" stroke="#f8ca16" stroke-width="1.3"/>
<circle cx="401.35" cy="590.76" r="7.85" stroke="#f8ca16" stroke-width="1.3"/>
<circle cx="401.28" cy="590.28" r="9" stroke="#f8ca16" stroke-width="1.3"/>
<circle cx="405.11" cy="612.34" r="6.5" stroke="#f8ca16" stroke-width="1.4"/>
<circle cx="405.26" cy="612.5" r="8" stroke="#f8ca16" stroke-width="1.4"/>
<circle cx="385.55" cy="625.78" r="6.8" stroke="#f8ca16" stroke-width="1.2"/>
<circle cx="385.73" cy="626.13" r="8" stroke="#f8ca16" stroke-width="1.2"/>
<circle cx="499.6" cy="553.3" r="5.1" stroke="#f8ca16" stroke-width="1"/>
<circle cx="582" cy="549.4" r="4.9" stroke="#f8ca16" stroke-width="1"/>
<circle cx="478.86" cy="589.62" r="6" stroke="#f8ca16" stroke-width="1.3"/>
<circle cx="478.41" cy="589.67" r="7.2" stroke="#f8ca16" stroke-width="1.3"/>
<circle cx="478.88" cy="589.61" r="8.4" stroke="#f8ca16" stroke-width="1.3"/>
<circle cx="540.95" cy="579.16" r="1" stroke="#f8ca16" stroke-width="2.1"/>
<circle cx="541.29" cy="580" r="2.42" stroke="#f8ca16" stroke-width="2.1"/>
<circle cx="541.78" cy="579.83" r="3.85" stroke="#f8ca16" stroke-width="2.1"/>
<circle cx="541.9" cy="580.03" r="5.28" stroke="#f8ca16" stroke-width="2.1"/>
<circle cx="541.23" cy="579.29" r="6.7" stroke="#f8ca16" stroke-width="2.1"/>
<circle cx="541.84" cy="579.85" r="8.12" stroke="#f8ca16" stroke-width="2.1"/>
<circle cx="540.93" cy="579.76" r="9.55" stroke="#f8ca16" stroke-width="2.1"/>
<circle cx="541.28" cy="579.47" r="10.97" stroke="#f8ca16" stroke-width="2.1"/>
<circle cx="541.23" cy="579.27" r="12.4" stroke="#f8ca16" stroke-width="2.1"/>
<circle cx="526.9" cy="594.1" r="6.9" stroke="#f8ca16" stroke-width="1.2"/>
<circle cx="315.9" cy="240" r="8.1" stroke="#16eaeb" stroke-width="1.1"/>
<circle cx="315.9" cy="241" r="8.1" stroke="#16eaeb" stroke-width="1"/>
<circle cx="331.6" cy="260.92" r="6" stroke="#16eaeb" stroke-width="1.5"/>
<circle cx="331.88" cy="261.46" r="7.2" stroke="#16eaeb" stroke-width="1.5"/>
<circle cx="331.7" cy="261.47" r="8.4" stroke="#16eaeb" stroke-width="1.5"/>
<circle cx="331.77" cy="260.99" r="9.6" stroke="#16eaeb" stroke-width="1.5"/>
<circle cx="332.26" cy="261.36" r="10.8" stroke="#16eaeb" stroke-width="1.5"/>
<circle cx="331.95" cy="260.74" r="12" stroke="#16eaeb" stroke-width="1.5"/>
<circle cx="328.7" cy="265" r="5.3" stroke="#16eaeb" stroke-width="1"/>
<circle cx="299.3" cy="266.4" r="7.9" stroke="#16eaeb" stroke-width="1.1"/>
<circle cx="300.7" cy="265.4" r="6.4" stroke="#16eaeb" stroke-width="1"/>
<circle cx="287.68" cy="291.4" r="5.8" stroke="#16eaeb" stroke-width="1.5"/>
<circle cx="288.04" cy="291.25" r="7.5" stroke="#16eaeb" stroke-width="1.5"/>
<circle cx="287.59" cy="291.82" r="9.2" stroke="#16eaeb" stroke-width="1.5"/>
<circle cx="282.3" cy="303.2" r="3" stroke="#16eaeb" stroke-width="1"/>
<circle cx="270.6" cy="319.5" r="6.2" stroke="#16eaeb" stroke-width="1.1"/>
<circle cx="300" cy="314.6" r="4" stroke="#16eaeb" stroke-width="1"/>
<circle cx="240.9" cy="325.3" r="4.7" stroke="#16eaeb" stroke-width="1"/>
<circle cx="240.6" cy="324.7" r="2.4" stroke="#16eaeb" stroke-width="1"/>
<circle cx="226.2" cy="350.3" r="4.2" stroke="#16eaeb" stroke-width="1"/>
<circle cx="255.52" cy="339.63" r="6.5" stroke="#16eaeb" stroke-width="1.5"/>
<circle cx="256.15" cy="339.91" r="7.67" stroke="#16eaeb" stroke-width="1.5"/>
<circle cx="255.53" cy="339.33" r="8.85" stroke="#16eaeb" stroke-width="1.5"/>
<circle cx="255.55" cy="340.04" r="10.02" stroke="#16eaeb" stroke-width="1.5"/>
<circle cx="255.71" cy="339.9" r="11.2" stroke="#16eaeb" stroke-width="1.5"/>
<circle cx="597.5" cy="211.8" r="6" stroke="#16eaeb" stroke-width="1"/>
<circle cx="586.9" cy="234.9" r="6.7" stroke="#16eaeb" stroke-width="1"/>
<circle cx="585.4" cy="234.7" r="4.3" stroke="#16eaeb" stroke-width="1"/>
<circle cx="583" cy="238.1" r="2.9" stroke="#16eaeb" stroke-width="1"/>
<circle cx="582.5" cy="237" r="2" stroke="#16eaeb" stroke-width="1"/>
<circle cx="299.12" cy="554.57" r="6.6" stroke="#16eaeb" stroke-width="1.4"/>
<circle cx="298.62" cy="555.07" r="7.5" stroke="#16eaeb" stroke-width="1.4"/>
<circle cx="298.89" cy="554.51" r="8.4" stroke="#16eaeb" stroke-width="1.4"/>
<circle cx="314.87" cy="563.35" r="5.4" stroke="#16eaeb" stroke-width="1.3"/>
<circle cx="314.52" cy="563.1" r="6.25" stroke="#16eaeb" stroke-width="1.3"/>
<circle cx="314.9" cy="563.83" r="7.1" stroke="#16eaeb" stroke-width="1.3"/>
<circle cx="564.6" cy="568.4" r="5.6" stroke="#16eaeb" stroke-width="1"/>
<circle cx="546" cy="592" r="2.2" stroke="#f8ca16" stroke-width="3.5"/>
<circle cx="545.81" cy="595.35" r="6" stroke="#16eaeb" stroke-width="1.6"/>
<circle cx="545.32" cy="594.79" r="7.35" stroke="#16eaeb" stroke-width="1.6"/>
<circle cx="545.68" cy="595.37" r="8.7" stroke="#16eaeb" stroke-width="1.6"/>
<circle cx="546.06" cy="594.91" r="10.05" stroke="#16eaeb" stroke-width="1.6"/>
<circle cx="545.5" cy="594.94" r="11.4" stroke="#16eaeb" stroke-width="1.6"/>
<circle cx="545.69" cy="595.34" r="12.75" stroke="#16eaeb" stroke-width="1.6"/>
<circle cx="545.45" cy="595.24" r="14.1" stroke="#16eaeb" stroke-width="1.6"/>
<circle cx="440.6" cy="630.8" r="10" stroke="#16eaeb" stroke-width="1.7"/>
<circle cx="440.75" cy="630.2" r="9.2" stroke="#16eaeb" stroke-width="1.7"/>
<circle cx="440.9" cy="629.6" r="8.4" stroke="#16eaeb" stroke-width="1.6"/>
<circle cx="441.05" cy="629" r="7.4" stroke="#16eaeb" stroke-width="1.3"/>
<circle cx="441.2" cy="628.2" r="5.8" stroke="#16eaeb" stroke-width="1"/>
<circle cx="441.35" cy="627.6" r="4.2" stroke="#16eaeb" stroke-width="1"/>
<circle cx="441.5" cy="627.2" r="2.8" stroke="#16eaeb" stroke-width="1"/>
<circle cx="440.6" cy="628.4" r="10" stroke="#16eaeb" stroke-width="1.6"/>
<circle cx="423.9" cy="660.8" r="13.6" stroke="#16eaeb" stroke-width="1.8"/>
<circle cx="423.8" cy="660.2" r="12.6" stroke="#16eaeb" stroke-width="1.8"/>
<circle cx="423.7" cy="659.6" r="11.6" stroke="#16eaeb" stroke-width="1.8"/>
<circle cx="423.6" cy="659.2" r="10.6" stroke="#16eaeb" stroke-width="1.6"/>
<circle cx="423.5" cy="658.8" r="9.4" stroke="#16eaeb" stroke-width="1.2"/>
<circle cx="423.4" cy="658.2" r="8" stroke="#16eaeb" stroke-width="1"/>
<circle cx="423.3" cy="657.8" r="6.6" stroke="#16eaeb" stroke-width="1"/>
<circle cx="423.9" cy="658" r="13.4" stroke="#16eaeb" stroke-width="1.6"/>
</g>
<circle cx="436.7" cy="425.5" r="184.3" fill="none" stroke="#000" stroke-width="4.1" stroke-dasharray="8.7 8.31" stroke-dashoffset="-1.2"/>
<path d="M427.4 410.6 L451.4 434.6 M451.4 410.6 L427.4 434.6" stroke="#000" stroke-width="5.3" fill="none"/>
<path d="M142.56 87.8 V98.3 M142.56 733.7 V723.2 M155.5 87.8 V98.3 M155.5 733.7 V723.2 M168.43 87.8 V98.3 M168.43 733.7 V723.2 M181.37 87.8 V98.3 M181.37 733.7 V723.2 M194.3 87.8 V108.8 M194.3 733.7 V712.7 M207.24 87.8 V98.3 M207.24 733.7 V723.2 M220.17 87.8 V98.3 M220.17 733.7 V723.2 M233.11 87.8 V98.3 M233.11 733.7 V723.2 M246.04 87.8 V98.3 M246.04 733.7 V723.2 M258.98 87.8 V98.3 M258.98 733.7 V723.2 M271.91 87.8 V98.3 M271.91 733.7 V723.2 M284.85 87.8 V98.3 M284.85 733.7 V723.2 M297.78 87.8 V98.3 M297.78 733.7 V723.2 M310.72 87.8 V98.3 M310.72 733.7 V723.2 M323.65 87.8 V108.8 M323.65 733.7 V712.7 M336.59 87.8 V98.3 M336.59 733.7 V723.2 M349.52 87.8 V98.3 M349.52 733.7 V723.2 M362.46 87.8 V98.3 M362.46 733.7 V723.2 M375.39 87.8 V98.3 M375.39 733.7 V723.2 M388.33 87.8 V98.3 M388.33 733.7 V723.2 M401.26 87.8 V98.3 M401.26 733.7 V723.2 M414.2 87.8 V98.3 M414.2 733.7 V723.2 M427.13 87.8 V98.3 M427.13 733.7 V723.2 M440.07 87.8 V98.3 M440.07 733.7 V723.2 M453 87.8 V108.8 M453 733.7 V712.7 M465.94 87.8 V98.3 M465.94 733.7 V723.2 M478.87 87.8 V98.3 M478.87 733.7 V723.2 M491.81 87.8 V98.3 M491.81 733.7 V723.2 M504.74 87.8 V98.3 M504.74 733.7 V723.2 M517.67 87.8 V98.3 M517.67 733.7 V723.2 M530.61 87.8 V98.3 M530.61 733.7 V723.2 M543.55 87.8 V98.3 M543.55 733.7 V723.2 M556.48 87.8 V98.3 M556.48 733.7 V723.2 M569.41 87.8 V98.3 M569.41 733.7 V723.2 M582.35 87.8 V108.8 M582.35 733.7 V712.7 M595.29 87.8 V98.3 M595.29 733.7 V723.2 M608.22 87.8 V98.3 M608.22 733.7 V723.2 M621.15 87.8 V98.3 M621.15 733.7 V723.2 M634.09 87.8 V98.3 M634.09 733.7 V723.2 M647.03 87.8 V98.3 M647.03 733.7 V723.2 M659.96 87.8 V98.3 M659.96 733.7 V723.2 M672.89 87.8 V98.3 M672.89 733.7 V723.2 M685.83 87.8 V98.3 M685.83 733.7 V723.2 M698.77 87.8 V98.3 M698.77 733.7 V723.2 M711.7 87.8 V108.8 M711.7 733.7 V712.7 M724.63 87.8 V98.3 M724.63 733.7 V723.2 M737.57 87.8 V98.3 M737.57 733.7 V723.2 M750.51 87.8 V98.3 M750.51 733.7 V723.2 M763.44 87.8 V98.3 M763.44 733.7 V723.2 M129.8 100.72 H140.3 M776.6 100.72 H766.1 M129.8 113.64 H140.3 M776.6 113.64 H766.1 M129.8 126.55 H140.3 M776.6 126.55 H766.1 M129.8 139.47 H140.3 M776.6 139.47 H766.1 M129.8 152.39 H140.3 M776.6 152.39 H766.1 M129.8 165.31 H140.3 M776.6 165.31 H766.1 M129.8 178.23 H140.3 M776.6 178.23 H766.1 M129.8 191.14 H140.3 M776.6 191.14 H766.1 M129.8 204.06 H140.3 M776.6 204.06 H766.1 M129.8 216.98 H150.8 M776.6 216.98 H755.6 M129.8 229.9 H140.3 M776.6 229.9 H766.1 M129.8 242.82 H140.3 M776.6 242.82 H766.1 M129.8 255.73 H140.3 M776.6 255.73 H766.1 M129.8 268.65 H140.3 M776.6 268.65 H766.1 M129.8 281.57 H140.3 M776.6 281.57 H766.1 M129.8 294.49 H140.3 M776.6 294.49 H766.1 M129.8 307.41 H140.3 M776.6 307.41 H766.1 M129.8 320.32 H140.3 M776.6 320.32 H766.1 M129.8 333.24 H140.3 M776.6 333.24 H766.1 M129.8 346.16 H150.8 M776.6 346.16 H755.6 M129.8 359.08 H140.3 M776.6 359.08 H766.1 M129.8 372 H140.3 M776.6 372 H766.1 M129.8 384.91 H140.3 M776.6 384.91 H766.1 M129.8 397.83 H140.3 M776.6 397.83 H766.1 M129.8 410.75 H140.3 M776.6 410.75 H766.1 M129.8 423.67 H140.3 M776.6 423.67 H766.1 M129.8 436.59 H140.3 M776.6 436.59 H766.1 M129.8 449.5 H140.3 M776.6 449.5 H766.1 M129.8 462.42 H140.3 M776.6 462.42 H766.1 M129.8 475.34 H150.8 M776.6 475.34 H755.6 M129.8 488.26 H140.3 M776.6 488.26 H766.1 M129.8 501.18 H140.3 M776.6 501.18 H766.1 M129.8 514.09 H140.3 M776.6 514.09 H766.1 M129.8 527.01 H140.3 M776.6 527.01 H766.1 M129.8 539.93 H140.3 M776.6 539.93 H766.1 M129.8 552.85 H140.3 M776.6 552.85 H766.1 M129.8 565.77 H140.3 M776.6 565.77 H766.1 M129.8 578.68 H140.3 M776.6 578.68 H766.1 M129.8 591.6 H140.3 M776.6 591.6 H766.1 M129.8 604.52 H150.8 M776.6 604.52 H755.6 M129.8 617.44 H140.3 M776.6 617.44 H766.1 M129.8 630.36 H140.3 M776.6 630.36 H766.1 M129.8 643.27 H140.3 M776.6 643.27 H766.1 M129.8 656.19 H140.3 M776.6 656.19 H766.1 M129.8 669.11 H140.3 M776.6 669.11 H766.1 M129.8 682.03 H140.3 M776.6 682.03 H766.1 M129.8 694.95 H140.3 M776.6 694.95 H766.1 M129.8 707.86 H140.3 M776.6 707.86 H766.1 M129.8 720.78 H140.3 M776.6 720.78 H766.1" stroke="#000" stroke-width="3" fill="none"/>
<rect x="129.8" y="87.8" width="646.8" height="645.9" fill="none" stroke="#000" stroke-width="3" stroke-linejoin="round"/>
<g fill="#000" stroke="#000" stroke-width="0.4">
<text x="97.28" y="100.6" font-size="35.3" textLength="18.73" lengthAdjust="spacingAndGlyphs">0</text>
<text x="58.53" y="230.5" font-size="35.3" textLength="57.5" lengthAdjust="spacingAndGlyphs"><tspan dy="1.6">−</tspan><tspan dy="-1.6">10</tspan></text>
<text x="58.53" y="359.2" font-size="35.3" textLength="57.5" lengthAdjust="spacingAndGlyphs"><tspan dy="1.6">−</tspan><tspan dy="-1.6">20</tspan></text>
<text x="58.53" y="488.4" font-size="35.3" textLength="57.5" lengthAdjust="spacingAndGlyphs"><tspan dy="1.6">−</tspan><tspan dy="-1.6">30</tspan></text>
<text x="58.53" y="616.8" font-size="35.3" textLength="57.5" lengthAdjust="spacingAndGlyphs"><tspan dy="1.6">−</tspan><tspan dy="-1.6">40</tspan></text>
<text x="58.84" y="743.6" font-size="35.3" textLength="57.18" lengthAdjust="spacingAndGlyphs"><tspan dy="1.6">−</tspan><tspan dy="-1.6">50</tspan></text>
<text x="166.22" y="774.2" font-size="35.3" textLength="57.71" lengthAdjust="spacingAndGlyphs"><tspan dy="1.6">−</tspan><tspan dy="-1.6">40</tspan></text>
<text x="295.14" y="774.2" font-size="35.3" textLength="57.18" lengthAdjust="spacingAndGlyphs"><tspan dy="1.6">−</tspan><tspan dy="-1.6">50</tspan></text>
<text x="423.33" y="774.2" font-size="35.3" textLength="57.5" lengthAdjust="spacingAndGlyphs"><tspan dy="1.6">−</tspan><tspan dy="-1.6">60</tspan></text>
<text x="558.04" y="774.2" font-size="35.3" textLength="57.18" lengthAdjust="spacingAndGlyphs"><tspan dy="1.6">−</tspan><tspan dy="-1.6">70</tspan></text>
<text x="687.73" y="774.2" font-size="35.3" textLength="57.5" lengthAdjust="spacingAndGlyphs"><tspan dy="1.6">−</tspan><tspan dy="-1.6">80</tspan></text>
<text x="325.51" y="822.8" font-size="35" textLength="254.72" lengthAdjust="spacingAndGlyphs">R. A. offset (mas)</text>
<text transform="translate(24.7 533.7) rotate(-90)" x="-2.7" y="0" font-size="35" textLength="250.85" lengthAdjust="spacingAndGlyphs">Dec. offset (mas)</text>
<text x="301.96" y="162.5" font-size="29" textLength="159.38" lengthAdjust="spacingAndGlyphs">2016. 03. 27</text>
<text x="469.43" y="162.5" font-size="29" textLength="7.91" lengthAdjust="spacingAndGlyphs">(</text>
<text x="480.11" y="162.5" font-size="29" textLength="17.79" lengthAdjust="spacingAndGlyphs" font-family="'Liberation Serif', serif" font-style="italic">ϕ</text>
<text x="501.87" y="165" font-size="29" textLength="18.27" lengthAdjust="spacingAndGlyphs">=</text>
<text x="527.97" y="162.5" font-size="29" textLength="65.71" lengthAdjust="spacingAndGlyphs">0.67)</text>
</g>
<rect x="923.1" y="0.8" width="253.7" height="381.1" fill="none" stroke="#000" stroke-width="2" stroke-linejoin="round"/>
<path d="M931.7 381.9 V391.4 M947.38 381.9 V386.1 M963.05 381.9 V386.1 M978.73 381.9 V386.1 M994.4 381.9 V391.4 M1010.08 381.9 V386.1 M1025.75 381.9 V386.1 M1041.42 381.9 V386.1 M1057.1 381.9 V391.4 M1072.78 381.9 V386.1 M1088.45 381.9 V386.1 M1104.12 381.9 V386.1 M1119.8 381.9 V391.4 M1135.48 381.9 V386.1 M1151.15 381.9 V386.1 M1166.83 381.9 V386.1 M931.7 0.8 V8.3 M994.4 0.8 V8.3 M1057.1 0.8 V8.3 M1119.8 0.8 V8.3 M923.1 286.5 H928.6 M1176.8 286.5 H1171.3 M923.1 191.1 H928.6 M1176.8 191.1 H1171.3 M923.1 95.7 H928.6 M1176.8 95.7 H1171.3" stroke="#000" stroke-width="1.7" fill="none"/>
<g font-size="30" fill="#000" stroke="#000" stroke-width="0.4">
<text x="931.7" y="426" text-anchor="middle">10</text>
<text x="994.4" y="426" text-anchor="middle">12</text>
<text x="1057.1" y="426" text-anchor="middle">14</text>
<text x="1119.8" y="426" text-anchor="middle">16</text>
<text x="910.5" y="391.9" text-anchor="end">0</text>
<text x="910.5" y="296.5" text-anchor="end">20</text>
<text x="910.5" y="201.1" text-anchor="end">40</text>
<text x="910.5" y="105.7" text-anchor="end">60</text>
</g>
<g fill="#fde0df" stroke="none">
<rect x="950.7" y="291.27" width="28.3" height="90.63"/>
<rect x="979" y="195.87" width="28.4" height="186.03"/>
<rect x="1007.4" y="19.38" width="28.2" height="362.52"/>
<rect x="1035.6" y="167.25" width="27.9" height="214.65"/>
<rect x="1063.5" y="210.18" width="28.6" height="171.72"/>
<rect x="1092.1" y="281.73" width="27.6" height="100.17"/>
<rect x="1119.7" y="372.36" width="28.7" height="9.54"/>
</g>
<g fill="#0c1f7d" stroke="#0c1f7d" stroke-width="0.35">
<text x="949.7" y="39.3" font-size="25.5" textLength="192.72" lengthAdjust="spacingAndGlyphs">Radius (fit): 13.14</text>
<text x="950.06" y="65.4" font-size="25.5" textLength="139.87" lengthAdjust="spacingAndGlyphs">FWHM: 3.24</text>
</g>
<text x="986.12" y="359.5" font-size="29" textLength="124.44" lengthAdjust="spacingAndGlyphs" fill="#0000e1" stroke="#0000e1" stroke-width="0.3">43.1 GHz</text>
<path d="M950.7 381.9 V291.27 H979 V381.9 Z M979 381.9 V195.87 H1007.4 V381.9 Z M1007.4 381.9 V19.38 H1035.6 V381.9 Z M1035.6 381.9 V167.25 H1063.5 V381.9 Z M1063.5 381.9 V210.18 H1092.1 V381.9 Z M1092.1 381.9 V281.73 H1119.7 V381.9 Z M1119.7 381.9 V372.36 H1148.4 V381.9 Z" fill="none" stroke="#c85c5a" stroke-width="1.6"/>
<polyline points="965,283.5 993.9,170.3 1021.7,82.5 1049.6,107.1 1077.8,212 1105.8,318.3 1133.7,365.6" fill="none" stroke="#3a8fe3" stroke-width="1.8" stroke-linejoin="round"/>
<rect x="1255.6" y="0.8" width="253.9" height="381.4" fill="none" stroke="#000" stroke-width="2" stroke-linejoin="round"/>
<path d="M1264.4 382.2 V391.7 M1277.28 382.2 V386.4 M1290.15 382.2 V386.4 M1303.03 382.2 V386.4 M1315.9 382.2 V391.7 M1328.78 382.2 V386.4 M1341.65 382.2 V386.4 M1354.53 382.2 V386.4 M1367.4 382.2 V391.7 M1380.28 382.2 V386.4 M1393.15 382.2 V386.4 M1406.03 382.2 V386.4 M1418.9 382.2 V391.7 M1431.78 382.2 V386.4 M1444.65 382.2 V386.4 M1457.53 382.2 V386.4 M1470.4 382.2 V391.7 M1483.28 382.2 V386.4 M1496.15 382.2 V386.4 M1264.4 0.8 V8.3 M1315.9 0.8 V8.3 M1367.4 0.8 V8.3 M1418.9 0.8 V8.3 M1470.4 0.8 V8.3 M1255.6 312.3 H1261.1 M1509.5 312.3 H1504 M1255.6 242.4 H1261.1 M1509.5 242.4 H1504 M1255.6 172.5 H1261.1 M1509.5 172.5 H1504 M1255.6 102.6 H1261.1 M1509.5 102.6 H1504 M1255.6 32.7 H1261.1 M1509.5 32.7 H1504" stroke="#000" stroke-width="1.7" fill="none"/>
<g font-size="30" fill="#000" stroke="#000" stroke-width="0.4">
<text x="1264.4" y="426.3" text-anchor="middle">8</text>
<text x="1315.9" y="426.3" text-anchor="middle">10</text>
<text x="1367.4" y="426.3" text-anchor="middle">12</text>
<text x="1418.9" y="426.3" text-anchor="middle">14</text>
<text x="1470.4" y="426.3" text-anchor="middle">16</text>
<text x="1243" y="392.2" text-anchor="end">0</text>
<text x="1243" y="322.3" text-anchor="end">10</text>
<text x="1243" y="252.4" text-anchor="end">20</text>
<text x="1243" y="182.5" text-anchor="end">30</text>
<text x="1243" y="112.6" text-anchor="end">40</text>
<text x="1243" y="42.7" text-anchor="end">50</text>
</g>
<g fill="#fde0df" stroke="none">
<rect x="1278.1" y="361.23" width="23.6" height="20.97"/>
<rect x="1301.7" y="382.2" width="22.9" height="0"/>
<rect x="1324.6" y="361.23" width="23.2" height="20.97"/>
<rect x="1347.8" y="123.57" width="23.6" height="258.63"/>
<rect x="1371.4" y="18.72" width="23.2" height="363.48"/>
<rect x="1394.6" y="25.71" width="22.9" height="356.49"/>
<rect x="1417.5" y="305.31" width="23.1" height="76.89"/>
<rect x="1440.6" y="179.49" width="23.4" height="202.71"/>
<rect x="1464" y="375.21" width="23.2" height="6.99"/>
</g>
<g fill="#0c1f7d" stroke="#0c1f7d" stroke-width="0.35">
<text x="1280.09" y="39.5" font-size="25.5" textLength="193.57" lengthAdjust="spacingAndGlyphs">Radius (fit): 12.90</text>
<text x="1280.57" y="65.6" font-size="25.5" textLength="138.8" lengthAdjust="spacingAndGlyphs">FWHM: 2.78</text>
</g>
<text x="1321.83" y="360.9" font-size="29" textLength="124.04" lengthAdjust="spacingAndGlyphs" fill="#e00000" stroke="#e00000" stroke-width="0.3">42.8 GHz</text>
<path d="M1278.1 382.2 V361.23 H1301.7 V382.2 Z M1301.7 382.2 V382.2 H1324.6 V382.2 Z M1324.6 382.2 V361.23 H1347.8 V382.2 Z M1347.8 382.2 V123.57 H1371.4 V382.2 Z M1371.4 382.2 V18.72 H1394.6 V382.2 Z M1394.6 382.2 V25.71 H1417.5 V382.2 Z M1417.5 382.2 V305.31 H1440.6 V382.2 Z M1440.6 382.2 V179.49 H1464 V382.2 Z M1464 382.2 V375.21 H1487.2 V382.2 Z" fill="none" stroke="#c85c5a" stroke-width="1.6"/>
<polyline points="1289.9,380.6 1313.1,367.6 1336.2,304 1359.6,181 1383,15.2 1406,44.5 1429,210 1452.3,333.9 1475.6,374.8" fill="none" stroke="#3a8fe3" stroke-width="1.8" stroke-linejoin="round"/>
<rect x="923.3" y="459.1" width="254.5" height="382" fill="none" stroke="#000" stroke-width="2" stroke-linejoin="round"/>
<path d="M931.9 841.1 V850.6 M947.62 841.1 V845.3 M963.35 841.1 V845.3 M979.07 841.1 V845.3 M994.8 841.1 V850.6 M1010.52 841.1 V845.3 M1026.25 841.1 V845.3 M1041.97 841.1 V845.3 M1057.7 841.1 V850.6 M1073.42 841.1 V845.3 M1089.15 841.1 V845.3 M1104.88 841.1 V845.3 M1120.6 841.1 V850.6 M1136.33 841.1 V845.3 M1152.05 841.1 V845.3 M1167.78 841.1 V845.3 M931.9 459.1 V466.6 M994.8 459.1 V466.6 M1057.7 459.1 V466.6 M1120.6 459.1 V466.6 M923.3 728 H928.8 M1177.8 728 H1172.3 M923.3 614.7 H928.8 M1177.8 614.7 H1172.3 M923.3 501.4 H928.8 M1177.8 501.4 H1172.3" stroke="#000" stroke-width="1.7" fill="none"/>
<g font-size="30" fill="#000" stroke="#000" stroke-width="0.4">
<text x="931.9" y="885.2" text-anchor="middle">10</text>
<text x="994.8" y="885.2" text-anchor="middle">12</text>
<text x="1057.7" y="885.2" text-anchor="middle">14</text>
<text x="1120.6" y="885.2" text-anchor="middle">16</text>
<text x="910.7" y="851.3" text-anchor="end">0</text>
<text x="910.7" y="738" text-anchor="end">50</text>
<text x="910.7" y="624.7" text-anchor="end">100</text>
<text x="910.7" y="511.4" text-anchor="end">150</text>
</g>
<g fill="#fde0df" stroke="none">
<rect x="950.8" y="836.77" width="28.6" height="4.53"/>
<rect x="979.4" y="811.84" width="28.8" height="29.46"/>
<rect x="1008.2" y="621.5" width="28.7" height="219.8"/>
<rect x="1036.9" y="703.07" width="28.2" height="138.23"/>
<rect x="1065.1" y="476.47" width="28.9" height="364.83"/>
<rect x="1094" y="841.3" width="28.1" height="0"/>
<rect x="1122.1" y="809.58" width="28.7" height="31.72"/>
</g>
<g fill="#0c1f7d" stroke="#0c1f7d" stroke-width="0.35">
<text x="948.28" y="496.7" font-size="25.5" textLength="193.88" lengthAdjust="spacingAndGlyphs">Radius (fit): 14.08</text>
<text x="948.32" y="522.9" font-size="25.5" textLength="135.15" lengthAdjust="spacingAndGlyphs">FWHM: 2.51</text>
</g>
<text x="992.92" y="823" font-size="29" textLength="124.14" lengthAdjust="spacingAndGlyphs" fill="#f2c614" stroke="#2e2300" stroke-width="1.5" paint-order="stroke">86.2 GHz</text>
<path d="M950.8 841.3 V836.77 H979.4 V841.3 Z M979.4 841.3 V811.84 H1008.2 V841.3 Z M1008.2 841.3 V621.5 H1036.9 V841.3 Z M1036.9 841.3 V703.07 H1065.1 V841.3 Z M1065.1 841.3 V476.47 H1094 V841.3 Z M1094 841.3 V841.3 H1122.1 V841.3 Z M1122.1 841.3 V809.58 H1150.8 V841.3 Z" fill="none" stroke="#c85c5a" stroke-width="1.6"/>
<polyline points="965.3,836.7 994.2,803.5 1022.7,693 1050.8,583 1079.6,608.6 1107.9,737.9 1136.4,819" fill="none" stroke="#3a8fe3" stroke-width="1.8" stroke-linejoin="round"/>
<rect x="1256" y="457" width="255.2" height="383.2" fill="none" stroke="#000" stroke-width="2" stroke-linejoin="round"/>
<path d="M1264.6 840.2 V844.4 M1278.3 840.2 V844.4 M1292 840.2 V849.7 M1305.7 840.2 V844.4 M1319.4 840.2 V844.4 M1333.1 840.2 V844.4 M1346.8 840.2 V849.7 M1360.5 840.2 V844.4 M1374.2 840.2 V844.4 M1387.9 840.2 V844.4 M1401.6 840.2 V849.7 M1415.3 840.2 V844.4 M1429 840.2 V844.4 M1442.7 840.2 V844.4 M1456.4 840.2 V849.7 M1470.1 840.2 V844.4 M1483.8 840.2 V844.4 M1497.5 840.2 V844.4 M1292 457 V464.5 M1346.8 457 V464.5 M1401.6 457 V464.5 M1456.4 457 V464.5 M1256 780.2 H1261.5 M1511.2 780.2 H1505.7 M1256 720.2 H1261.5 M1511.2 720.2 H1505.7 M1256 660.2 H1261.5 M1511.2 660.2 H1505.7 M1256 600.2 H1261.5 M1511.2 600.2 H1505.7 M1256 540.2 H1261.5 M1511.2 540.2 H1505.7 M1256 480.2 H1261.5 M1511.2 480.2 H1505.7" stroke="#000" stroke-width="1.7" fill="none"/>
<g font-size="30" fill="#000" stroke="#000" stroke-width="0.4">
<text x="1292" y="884.3" text-anchor="middle">14</text>
<text x="1346.8" y="884.3" text-anchor="middle">16</text>
<text x="1401.6" y="884.3" text-anchor="middle">18</text>
<text x="1456.4" y="884.3" text-anchor="middle">20</text>
<text x="1511.2" y="884.3" text-anchor="middle">22</text>
<text x="1243.4" y="850.2" text-anchor="end">0</text>
<text x="1243.4" y="790.2" text-anchor="end">10</text>
<text x="1243.4" y="730.2" text-anchor="end">20</text>
<text x="1243.4" y="670.2" text-anchor="end">30</text>
<text x="1243.4" y="610.2" text-anchor="end">40</text>
<text x="1243.4" y="550.2" text-anchor="end">50</text>
<text x="1243.4" y="490.2" text-anchor="end">60</text>
</g>
<g fill="#fde0df" stroke="none">
<rect x="1280" y="786.2" width="24.9" height="54"/>
<rect x="1304.9" y="588.2" width="24.7" height="252"/>
<rect x="1329.6" y="474.2" width="25.3" height="366"/>
<rect x="1354.9" y="810.2" width="24.3" height="30"/>
<rect x="1379.2" y="768.2" width="24.7" height="72"/>
<rect x="1403.9" y="726.2" width="24.9" height="114"/>
<rect x="1428.8" y="840.2" width="24.6" height="0"/>
<rect x="1453.4" y="834.2" width="24.9" height="6"/>
</g>
<g fill="#0c1f7d" stroke="#0c1f7d" stroke-width="0.35">
<text x="1281.09" y="496" font-size="25.5" textLength="193.04" lengthAdjust="spacingAndGlyphs">Radius (fit): 15.52</text>
<text x="1281.07" y="521.9" font-size="25.5" textLength="139.21" lengthAdjust="spacingAndGlyphs">FWHM: 1.38</text>
</g>
<text x="1311.88" y="824.3" font-size="29" textLength="139.37" lengthAdjust="spacingAndGlyphs" fill="#22e3e6" stroke="#22e3e6" stroke-width="0.3">129.3 GHz</text>
<path d="M1280 840.2 V786.2 H1304.9 V840.2 Z M1304.9 840.2 V588.2 H1329.6 V840.2 Z M1329.6 840.2 V474.2 H1354.9 V840.2 Z M1354.9 840.2 V810.2 H1379.2 V840.2 Z M1379.2 840.2 V768.2 H1403.9 V840.2 Z M1403.9 840.2 V726.2 H1428.8 V840.2 Z M1428.8 840.2 V840.2 H1453.4 V840.2 Z M1453.4 840.2 V834.2 H1478.3 V840.2 Z" fill="none" stroke="#c85c5a" stroke-width="1.6"/>
<polyline points="1292.4,823.3 1317.3,581.1 1342.3,482.1 1367,794.4 1391.7,840.2 1416.3,840.2 1441,840.2 1465.7,840.2" fill="none" stroke="#3a8fe3" stroke-width="1.8" stroke-linejoin="round"/>
<g fill="#000" stroke="#000" stroke-width="0.4">
<text transform="translate(841.9 293.5) rotate(-90)" x="-1.54" y="0" font-size="31" textLength="194.93" lengthAdjust="spacingAndGlyphs">Count of spots</text>
<text transform="translate(841.9 752) rotate(-90)" x="-1.55" y="0" font-size="31" textLength="196.95" lengthAdjust="spacingAndGlyphs">Count of spots</text>
<text x="1114.9" y="927.4" font-size="31.5" textLength="230.41" lengthAdjust="spacingAndGlyphs">Ring radius (mas)</text>
</g>
</svg></body></html>
